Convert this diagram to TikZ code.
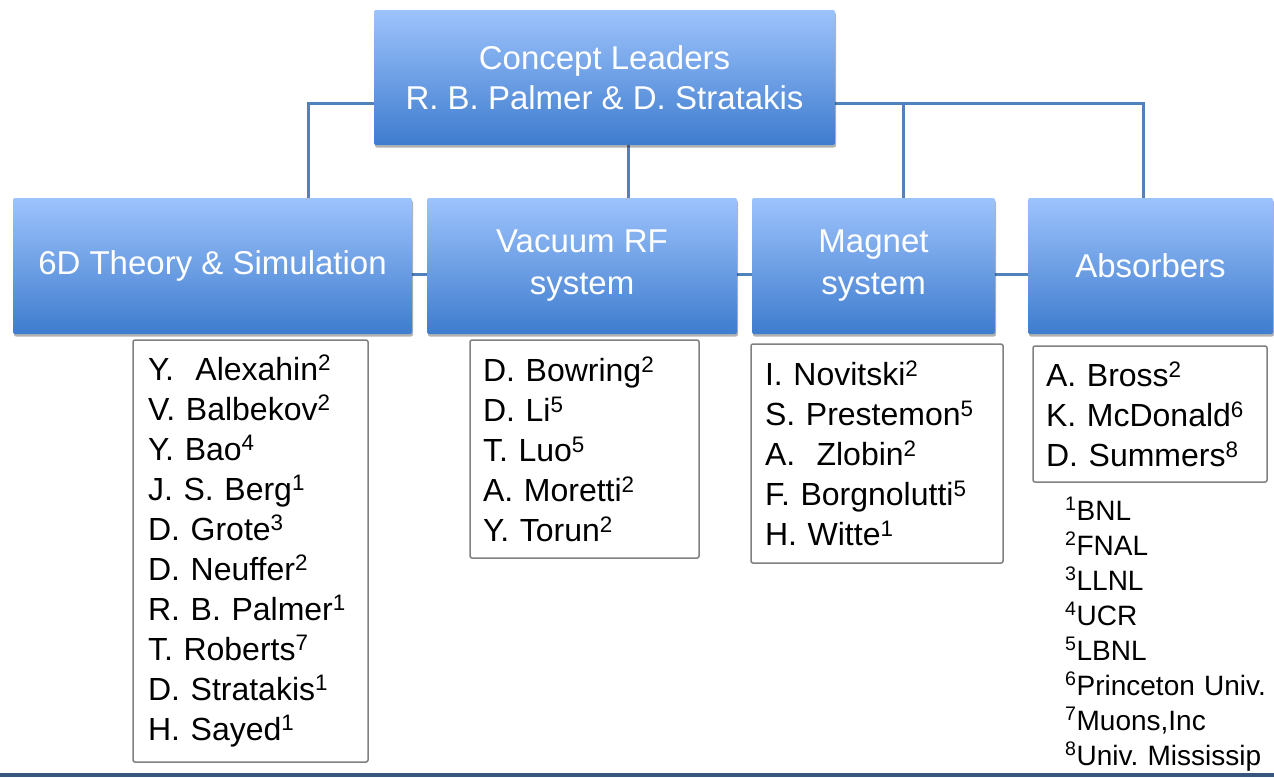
\documentclass[tikz,border=0pt]{standalone}
\usepackage{fontspec}
\setmainfont{Liberation Sans}
\usetikzlibrary{shadows,backgrounds}
\definecolor{hdtop}{RGB}{157,195,252}
\definecolor{hdbot}{RGB}{62,124,206}
\definecolor{conncol}{RGB}{79,129,189}
\definecolor{boxline}{RGB}{128,128,128}
\definecolor{bottomline}{RGB}{55,85,125}
\newcommand{\sps}[1]{\textsuperscript{#1}}
\tikzset{
  hdr/.style={rectangle, rounded corners=2pt, top color=hdtop, bottom color=hdbot,
    text=white, align=center, inner sep=0pt,
    font=\fontsize{33}{40}\selectfont,
    drop shadow={shadow xshift=1pt, shadow yshift=-2.5pt, opacity=0.3, fill=black}},
  hdrtwo/.style={hdr, font=\fontsize{33}{42}\selectfont},
  namebox/.style={rectangle, draw=boxline, line width=1.5pt, rounded corners=2pt,
    fill=white, align=left, inner sep=0pt,
    font=\fontsize{32}{40}\selectfont},
  connline/.style={draw=conncol, line width=3pt},
}
\begin{document}
\begin{tikzpicture}[x=1pt,y=-1pt]
\useasboundingbox (0,0) rectangle (1274,777);
\node[hdr, minimum width=461pt, minimum height=135pt] (top) at (604.5,77.5)
  {Concept Leaders\\R. B. Palmer \& D. Stratakis};
\node[hdr, minimum width=399pt, minimum height=136pt] (b1) at (212.5,266)
  {\raisebox{-3pt}{6D Theory \& Simulation}};
\node[hdrtwo, minimum width=310pt, minimum height=136pt] (b2) at (582,266)
  {\raisebox{-3pt}{Vacuum RF}\\\raisebox{-3pt}{system}};
\node[hdrtwo, minimum width=243pt, minimum height=136pt] (b3) at (873.5,266)
  {\raisebox{-3pt}{Magnet}\\\raisebox{-3pt}{system}};
\node[hdr, minimum width=245pt, minimum height=136pt] (b4) at (1150.5,266)
  {\raisebox{-2pt}{Absorbers}};

\begin{pgfonlayer}{background}
\coordinate (lj) at ([yshift=-25.5pt]top.west);
\coordinate (rj) at ([yshift=-25.5pt]top.east);
\coordinate (b1j) at ([xshift=95.5pt]b1.north);
\coordinate (b2j) at ([xshift=46pt]b2.north);
\coordinate (b3j) at ([xshift=29.5pt]b3.north);
\coordinate (b4j) at ([xshift=-7pt]b4.north);
\draw[connline] (lj) -| (b1j);
\draw[connline] (rj) -| (b4j);
\draw[connline] (b3j |- rj) -- (b3j);
\draw[connline] (b2j |- top.south) -- (b2j);
\draw[connline] ([yshift=-8pt]b1.east) -- ([yshift=-8pt]b4.west);
\end{pgfonlayer}

\node[namebox, minimum width=235pt, minimum height=422pt, text width=205pt] (nA) at (250.5,551)
  {Y.\ \ Alexahin\sps{2}\\V. Balbekov\sps{2}\\Y. Bao\sps{4}\\J. S. Berg\sps{1}\\D. Grote\sps{3}\\D. Neuffer\sps{2}\\R. B. Palmer\sps{1}\\T. Roberts\sps{7}\\D. Stratakis\sps{1}\\H. Sayed\sps{1}};
\node[namebox, minimum width=229pt, minimum height=218pt, text width=203pt] (nB) at (584.5,449)
  {D. Bowring\sps{2}\\D. Li\sps{5}\\T. Luo\sps{5}\\A. Moretti\sps{2}\\Y. Torun\sps{2}};
\node[namebox, minimum width=252pt, minimum height=219pt, text width=224pt] (nC) at (877,453.5)
  {I. Novitski\sps{2}\\S. Prestemon\sps{5}\\A.\ \ Zlobin\sps{2}\\F. Borgnolutti\sps{5}\\H. Witte\sps{1}};
\node[namebox, minimum width=234pt, minimum height=136pt, text width=208pt] (nD) at (1150,414)
  {A. Bross\sps{2}\\K. McDonald\sps{6}\\D. Summers\sps{8}};

\node[anchor=base west, inner sep=0pt, text width=205pt, align=left,
  font=\fontsize{28}{35}\selectfont] (fn) at (1065,520)
  {\sps{1}BNL\\\sps{2}FNAL\\\sps{3}LLNL\\\sps{4}UCR\\\sps{5}LBNL\\\sps{6}Princeton Univ.\\\sps{7}Muons,Inc\\\sps{8}Univ.\ Mississip};
\fill[bottomline] (0,772.5) rectangle (1274,776.5);
\end{tikzpicture}
\end{document}
